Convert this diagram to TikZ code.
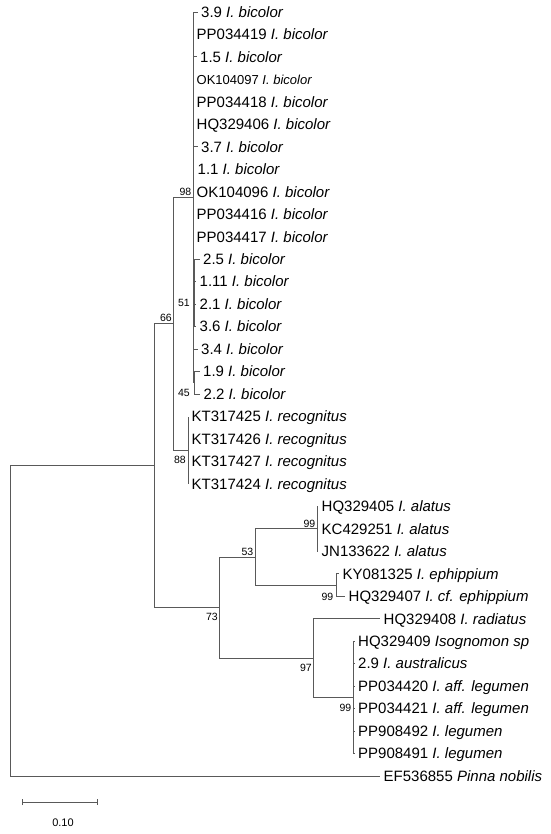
\documentclass[tikz,border=0pt]{standalone}
\usepackage{fontspec}
\setmainfont{Liberation Sans}
\usetikzlibrary{arrows.meta}
\begin{document}
\begin{tikzpicture}[x=1pt, y=-1pt,
                    branch/.style = {draw=black!65, line width=0.8pt},
                    leaf/.style = {anchor=west,
                                   inner xsep=3.5pt,
                                   inner ysep=0pt,
                                   text height=10.7pt,
                                   text depth=0pt,
                                   font=\fontsize{15}{18}\selectfont},
                    boot/.style = {anchor=east,
                                   inner sep=0pt,
                                   font=\fontsize{10.5}{12}\selectfont}]
	\useasboundingbox (0,0) rectangle (550,834);
	\coordinate (root) at (10,620.8);
	\coordinate (nA) at (154,465.6);
	\coordinate (n66) at (173,323.8);
	\coordinate (n98) at (193,197.4);
	\coordinate (n51) at (194.5,292.9);
	\coordinate (n45) at (194.5,382.8);
	\coordinate (n88) at (188,450.2);
	\coordinate (n73) at (219,607.5);
	\coordinate (n53) at (255,556.9);
	\coordinate (n99a) at (317,528.8);
	\coordinate (n99b) at (336,585);
	\coordinate (n97) at (313,658);
	\coordinate (n99c) at (353,697.4);
	\node[leaf] (t1) at (197.5,12) {3.9 \textit{I. bicolor}};
	\node[leaf] (t2) at (193,34.5) {PP034419 \textit{I. bicolor}};
	\node[leaf] (t3) at (196.5,56.9) {1.5 \textit{I. bicolor}};
	\node[leaf, font=\fontsize{13}{16}\selectfont, text height=9.3pt] (t4) at (193,79.4) {OK104097 \textit{I. bicolor}};
	\node[leaf] (t5) at (193,101.9) {PP034418 \textit{I. bicolor}};
	\node[leaf] (t6) at (193,124.4) {HQ329406 \textit{I. bicolor}};
	\node[leaf] (t7) at (197.5,146.8) {3.7 \textit{I. bicolor}};
	\node[leaf] (t8) at (194,169.3) {1.1 \textit{I. bicolor}};
	\node[leaf] (t9) at (193,191.8) {OK104096 \textit{I. bicolor}};
	\node[leaf] (t10) at (193,214.2) {PP034416 \textit{I. bicolor}};
	\node[leaf] (t11) at (193,236.7) {PP034417 \textit{I. bicolor}};
	\node[leaf] (t12) at (199.5,259.2) {2.5 \textit{I. bicolor}};
	\node[leaf] (t13) at (196,281.6) {1.11 \textit{I. bicolor}};
	\node[leaf] (t14) at (196,304.1) {2.1 \textit{I. bicolor}};
	\node[leaf] (t15) at (196,326.6) {3.6 \textit{I. bicolor}};
	\node[leaf] (t16) at (197.5,349.1) {3.4 \textit{I. bicolor}};
	\node[leaf] (t17) at (199.5,371.5) {1.9 \textit{I. bicolor}};
	\node[leaf] (t18) at (200,394) {2.2 \textit{I. bicolor}};
	\node[leaf] (t19) at (188,416.5) {KT317425 \textit{I. recognitus}};
	\node[leaf] (t20) at (188,438.9) {KT317426 \textit{I. recognitus}};
	\node[leaf] (t21) at (188,461.4) {KT317427 \textit{I. recognitus}};
	\node[leaf] (t22) at (188,483.9) {KT317424 \textit{I. recognitus}};
	\node[leaf] (t23) at (318,506.3) {HQ329405 \textit{I. alatus}};
	\node[leaf] (t24) at (318,528.8) {KC429251 \textit{I. alatus}};
	\node[leaf] (t25) at (318,551.3) {JN133622 \textit{I. alatus}};
	\node[leaf] (t26) at (339,573.8) {KY081325 \textit{I. ephippium}};
	\node[leaf] (t27) at (345,596.2) {HQ329407 \textit{I. cf. ephippium}};
	\node[leaf] (t28) at (380,618.7) {HQ329408 \textit{I. radiatus}};
	\node[leaf] (t29) at (354.5,641.2) {HQ329409 \textit{Isognomon sp}};
	\node[leaf] (t30) at (354.5,663.6) {2.9 \textit{I. australicus}};
	\node[leaf] (t31) at (354.5,686.1) {PP034420 \textit{I. aff. legumen}};
	\node[leaf] (t32) at (354.5,708.6) {PP034421 \textit{I. aff. legumen}};
	\node[leaf] (t33) at (354.5,731) {PP908492 \textit{I. legumen}};
	\node[leaf] (t34) at (354.5,753.5) {PP908491 \textit{I. legumen}};
	\node[leaf] (t35) at (380,776) {EF536855 \textit{Pinna nobilis}};
	\path[branch] (root) |- (nA) (root) |- (t35.west);
	\path[branch] (nA) |- (n66) (nA) |- (n73);
	\path[branch] (n66) |- (n98) (n66) |- (n88);
	\path[branch] (n98) |- (t1.west) (n98) |- (t2.west) (n98) |- (t3.west)
	              (n98) |- (t4.west) (n98) |- (t5.west) (n98) |- (t6.west)
	              (n98) |- (t7.west) (n98) |- (t8.west) (n98) |- (t9.west)
	              (n98) |- (t10.west) (n98) |- (t11.west) (n98) |- (n51)
	              (n98) |- (t16.west) (n98) |- (n45);
	\path[branch] (n51) |- (t12.west) (n51) |- (t13.west) (n51) |- (t14.west) (n51) |- (t15.west);
	\path[branch] (n45) |- (t17.west) (n45) |- (t18.west);
	\path[branch] (n88) |- (t19.west) (n88) |- (t20.west) (n88) |- (t21.west) (n88) |- (t22.west);
	\path[branch] (n73) |- (n53) (n73) |- (n97);
	\path[branch] (n53) |- (n99a) (n53) |- (n99b);
	\path[branch] (n99a) |- (t23.west) (n99a) |- (t24.west) (n99a) |- (t25.west);
	\path[branch] (n99b) |- (t26.west) (n99b) |- (t27.west);
	\path[branch] (n97) |- (t28.west) (n97) |- (n99c);
	\path[branch] (n99c) |- (t29.west) (n99c) |- (t30.west) (n99c) |- (t31.west)
	              (n99c) |- (t32.west) (n99c) |- (t33.west) (n99c) |- (t34.west);
	\node[boot] (b98) at (191.5,192) {98};
	\node[boot] (b66) at (172,318) {66};
	\node[boot] (b51) at (190,303) {51};
	\node[boot] (b45) at (190,393) {45};
	\node[boot] (b88) at (186,460) {88};
	\node[boot] (b73) at (218,617) {73};
	\node[boot] (b53) at (253.5,552) {53};
	\node[boot] (b99a) at (315.5,524) {99};
	\node[boot] (b99b) at (333.5,597) {99};
	\node[boot] (b97) at (312,668) {97};
	\node[boot] (b99c) at (351.5,708) {99};
	\coordinate (sbL) at (22,802);
	\coordinate (sbR) at (98,802);
	\path[branch, {Bar[width=6pt]}-{Bar[width=6pt]}] (sbL) -- (sbR);
	\node[font=\fontsize{11}{13}\selectfont, inner sep=0pt] (sbtxt) at (63,823) {0.10};
\end{tikzpicture}
\end{document}
